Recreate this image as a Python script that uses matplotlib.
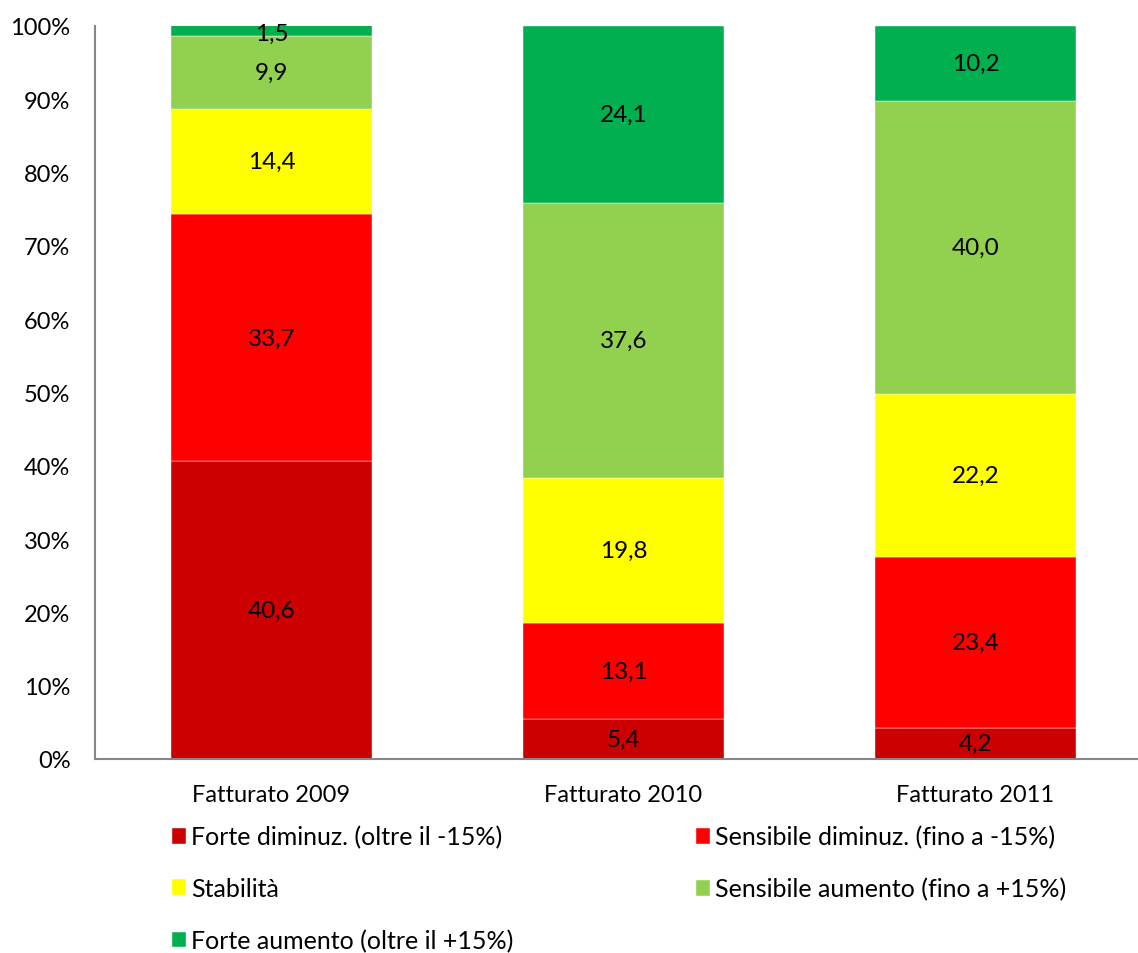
"""
Fatturato 2009-2011: distribuzione percentuale delle variazioni.
"""
import matplotlib.pyplot as plt
import numpy as np

plt.rcParams["font.family"] = ["Lato", "DejaVu Sans"]

CATEGORIES = ["Fatturato 2009", "Fatturato 2010", "Fatturato 2011"]
SERIES_NAMES = [
    "Forte diminuz. (oltre il -15%)",
    "Sensibile diminuz. (fino a -15%)",
    "Stabilità",
    "Sensibile aumento (fino a +15%)",
    "Forte aumento (oltre il +15%)",
]
FORTE_DIMINUZ = [40.6, 5.4, 4.2]
SENSIBILE_DIMINUZ = [33.7, 13.1, 23.4]
STABILITA = [14.4, 19.8, 22.2]
SENSIBILE_AUMENTO = [9.9, 37.6, 40.0]
FORTE_AUMENTO = [1.5, 24.1, 10.2]
COLORS = ["#CC0000", "#FF0000", "#FFFF00", "#92D050", "#00B050"]
Y_TICKS = [0, 10, 20, 30, 40, 50, 60, 70, 80, 90, 100]


def main() -> None:
    series = [FORTE_DIMINUZ, SENSIBILE_DIMINUZ, STABILITA, SENSIBILE_AUMENTO, FORTE_AUMENTO]

    fig = plt.figure(figsize=(11.38, 9.54), dpi=100)
    ax = fig.add_axes([0.0839, 0.2034, 0.9161, 0.7683])

    x = np.arange(len(CATEGORIES))
    bottom = np.zeros(len(CATEGORIES))
    handles = []
    for name, values, color in zip(SERIES_NAMES, series, COLORS):
        values = np.array(values)
        bars = ax.bar(x, values, width=0.571, bottom=bottom, color=color,
                      edgecolor="white", linewidth=0.3, label=name)
        handles.append(bars)
        for xi, b, v in zip(x, bottom, values):
            ax.text(xi, min(b + v / 2, 99.0), f"{v:.1f}".replace(".", ","),
                    ha="center", va="center", fontsize=17.5, color="black")
        bottom += values

    ax.set_xlim(-0.5, 2.4616)
    ax.set_ylim(0, 100)
    ax.set_yticks(Y_TICKS)
    ax.set_yticklabels([f"{t}%" for t in Y_TICKS])
    ax.set_xticks(x)
    ax.set_xticklabels(CATEGORIES)
    ax.tick_params(axis="both", length=0, labelsize=17)
    ax.tick_params(axis="y", pad=18)
    ax.tick_params(axis="x", pad=18)
    for side in ("top", "right"):
        ax.spines[side].set_visible(False)
    for side in ("left", "bottom"):
        ax.spines[side].set_color("#868686")
        ax.spines[side].set_linewidth(1.5)

    # Excel fills the legend row by row
    order = [0, 2, 4, 1, 3]
    fig.legend([handles[i] for i in order], [SERIES_NAMES[i] for i in order],
               ncol=2, loc="upper left", bbox_to_anchor=(0.151, 0.134),
               frameon=False, fontsize=18, handlelength=0.56, handleheight=0.6,
               handletextpad=0.2, columnspacing=7.3, labelspacing=1.15,
               borderaxespad=0, borderpad=0)

    fig.savefig("out.png", dpi=100)
    plt.close(fig)


if __name__ == "__main__":
    main()
